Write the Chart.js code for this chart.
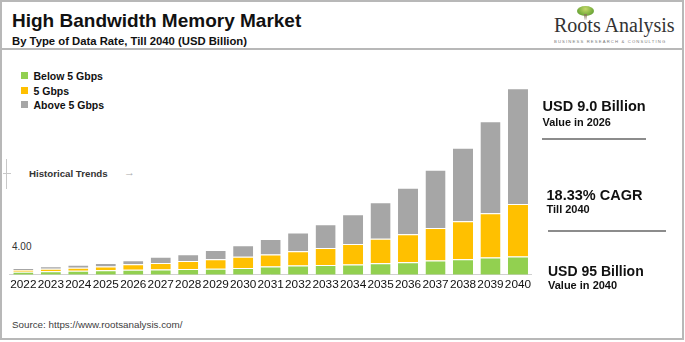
<!DOCTYPE html>
<html>
<head>
<meta charset="utf-8">
<script src="https://cdn.jsdelivr.net/npm/chart.js@4.4.1/dist/chart.umd.min.js"></script>
<style>
  html, body { margin: 0; padding: 0; background: #fff; }
  body { width: 685px; height: 342px; position: relative; overflow: hidden;
         font-family: "Liberation Sans", Arial, sans-serif; color: #1a1a1a; }
  .frame { position: absolute; left: 0; top: 0; width: 680px; height: 336px; border: 2px solid #b8b8b8; }
  .hline { position: absolute; height: 2px; background: #b8b8b8; }
  .t { position: absolute; line-height: 1; white-space: nowrap; }
  .b { font-weight: bold; }
  #wrap { position: absolute; left: 0; top: 60px; width: 545px; height: 242px; }
  .sq { position: absolute; width: 7px; height: 7px; }
  .rule { position: absolute; height: 2px; background: #8c8c8c; }
  .tree { position: absolute; left: 577px; top: 6px; width: 17px; height: 10px; border-radius: 50%;
          background: radial-gradient(ellipse at 50% 30%, #c6d86a 0%, #7fb241 55%, #4f8f2e 100%); }
  .trunk { position: absolute; left: 584px; top: 14px; width: 3px; height: 6px;
           background: linear-gradient(#8a7a5a, rgba(170,170,170,0.2)); }
</style>
</head>
<body>
<div class="frame"></div>
<div class="hline" style="left:0;top:48px;width:684px;"></div>

<div class="t b" style="left:12px;top:11px;font-size:19px;color:#111;">High Bandwidth Memory Market</div>
<div class="t b" style="left:12px;top:35.5px;font-size:11.3px;color:#111;">By Type of Data Rate, Till 2040 (USD Billion)</div>

<div class="tree"></div><div class="trunk"></div>
<div class="t" style="left:554px;top:15px;font-size:20px;font-family:'Liberation Serif','DejaVu Serif',serif;color:#333;">Roots Analysis</div>
<div class="t" style="left:554px;top:40px;font-size:4.2px;letter-spacing:1.15px;color:#777;">BUSINESS RESEARCH &amp; CONSULTING</div>

<div id="legend"></div>

<div style="position:absolute;left:6px;top:159px;width:1px;height:30px;background:#c8c8c8;"></div>
<div style="position:absolute;left:3px;top:173px;width:8px;height:1px;background:#c8c8c8;"></div>
<div class="t b" style="left:29px;top:168.5px;font-size:9.7px;color:#333;">Historical Trends</div>
<div class="t" style="left:124px;top:167px;font-size:11px;color:#aaa;">&#8594;</div>

<div class="t" style="left:12px;top:242px;font-size:10px;color:#333;">4.00</div>

<div id="wrap"><canvas id="c"></canvas></div>

<div class="t b" style="left:542.5px;top:99px;font-size:14.5px;color:#111;">USD 9.0 Billion</div>
<div class="t b" style="left:542.5px;top:117px;font-size:10.9px;color:#111;">Value in 2026</div>
<div class="rule" style="left:542px;top:138px;width:104px;"></div>
<div class="t b" style="left:546.5px;top:188px;font-size:14.5px;color:#111;">18.33% CAGR</div>
<div class="t b" style="left:546.5px;top:203.5px;font-size:11px;color:#111;">Till 2040</div>
<div class="rule" style="left:548px;top:230px;width:118px;"></div>
<div class="t b" style="left:548px;top:264px;font-size:14px;color:#111;">USD 95 Billion</div>
<div class="t b" style="left:548px;top:279.5px;font-size:11px;color:#111;">Value in 2040</div>

<div class="t" style="left:12px;top:320px;font-size:9.8px;color:#404040;">Source: https://www.rootsanalysis.com/</div>

<script>
const YEARS = ['2022','2023','2024','2025','2026','2027','2028','2029','2030','2031',
               '2032','2033','2034','2035','2036','2037','2038','2039','2040'];
const BELOW_5 = [1.6, 1.8, 2.1, 2.4, 2.6, 2.75, 2.95, 3.1, 3.5, 4.2, 4.7, 5.0, 5.3, 5.9, 6.4, 7.3, 7.9, 8.8, 9.3];
const AT_5    = [0.9, 1.35, 1.55, 1.9, 2.8, 3.3, 4.15, 4.8, 5.7, 6.2, 7.3, 8.7, 10.4, 12.5, 14.2, 16.6, 19.4, 22.6, 26.8];
const ABOVE_5 = [1.0, 1.25, 1.55, 1.7, 2.0, 3.1, 3.4, 4.7, 5.9, 7.8, 9.6, 12.0, 15.2, 18.6, 23.7, 29.6, 37.4, 46.8, 58.9];
const SERIES_NAMES = ['Below 5 Gbps', '5 Gbps', 'Above 5 Gbps'];

const COLORS = ['#92D050', '#FFC000', '#A6A6A6'];

// legend drawn as html so it can sit in the top-left corner like the original
const LEGEND_Y = [72, 86.5, 100.5];
const legend = document.getElementById('legend');
SERIES_NAMES.forEach((name, i) => {
  const sq = document.createElement('div');
  sq.className = 'sq';
  sq.style.left = '21px';
  sq.style.top = LEGEND_Y[i] + 'px';
  sq.style.background = COLORS[i];
  legend.appendChild(sq);
  const lb = document.createElement('div');
  lb.className = 't b';
  lb.style.left = '33.5px';
  lb.style.top = (LEGEND_Y[i] - 0.8) + 'px';
  lb.style.fontSize = '10.5px';
  lb.style.color = '#111';
  lb.textContent = name;
  legend.appendChild(lb);
});

const seriesData = [BELOW_5, AT_5, ABOVE_5];

new Chart(document.getElementById('c'), {
  type: 'bar',
  data: {
    labels: YEARS,
    datasets: seriesData.map((d, i) => ({
      label: SERIES_NAMES[i], data: d, backgroundColor: COLORS[i],
      borderColor: '#ffffff', borderWidth: { top: 1, left: 0, right: 0, bottom: 0 },
      borderSkipped: 'start', barPercentage: 0.73, categoryPercentage: 1,
    })),
  },
  options: {
    responsive: true, maintainAspectRatio: false, animation: false,
    layout: { padding: { left: 9.6, right: 13.3, top: 18.4, bottom: 7 } },
    plugins: { legend: { display: false }, tooltip: { enabled: false } },
    scales: {
      x: {
        stacked: true,
        grid: { display: false, drawTicks: false },
        border: { display: true, color: '#d0d0d0', width: 1 },
        ticks: { autoSkip: false, maxRotation: 0, padding: 3, color: '#111',
                 font: { family: 'Liberation Sans', size: 11.8 } },
      },
      y: { stacked: true, display: false, min: 0, max: 100 },
    },
  },
});
</script>
</body>
</html>
